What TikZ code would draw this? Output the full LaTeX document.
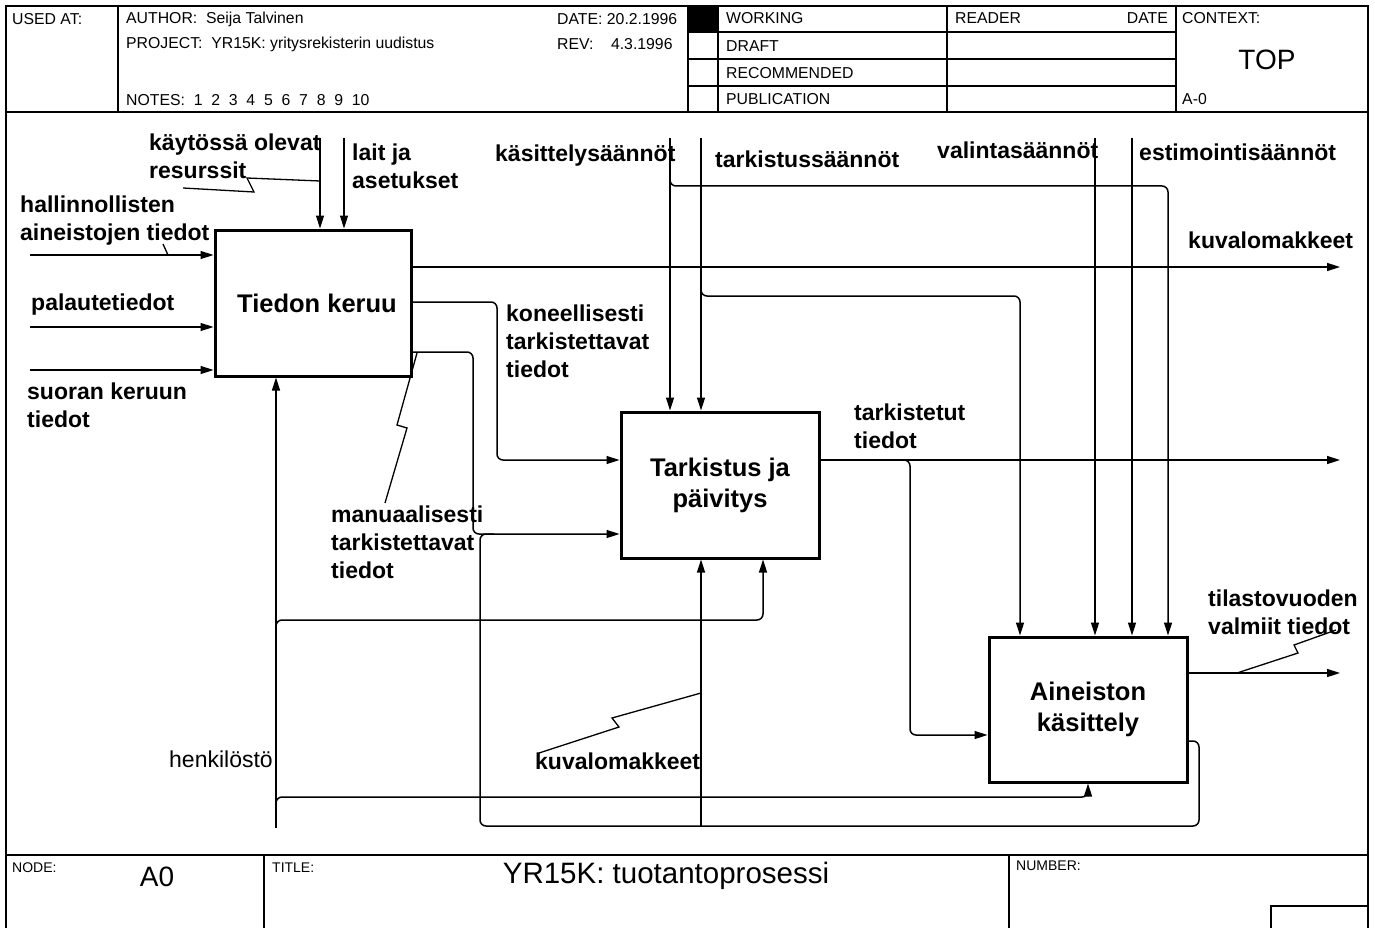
\documentclass[tikz,border=0pt]{standalone}
\usepackage{fontspec}
\setmainfont{Liberation Sans}
\usetikzlibrary{arrows.meta,calc}
\begin{document}
\begin{tikzpicture}[x=1pt,y=-1pt,
  flow/.style={line width=1.5pt, -{Triangle[length=13pt,width=8pt]}, rounded corners=6pt},
  plain/.style={line width=1.5pt, rounded corners=6pt},
  squig/.style={line width=1.3pt},
  act/.style={draw, line width=3pt, minimum width=196pt, minimum height=146pt, inner sep=0pt,
    font=\fontsize{25.5}{31}\selectfont\bfseries, align=center},
  lab/.style={font=\fontsize{23}{28}\selectfont\bfseries, align=left, anchor=west, inner sep=0pt},
  hdr/.style={font=\fontsize{15.8}{18}\selectfont, anchor=west, inner sep=0pt},
  big/.style={font=\fontsize{28}{32}\selectfont, inner sep=0pt},
  frm/.style={line width=1.5pt}
]
\useasboundingbox (0,0) rectangle (1375,928);
\fill[white] (0,0) rectangle (1375,928);

% ---------- frame ----------
\draw[frm] (6,935) -- (6,6) -- (1368,6) -- (1368,935);
\draw[frm] (6,112) -- (1368,112);
\draw[frm] (118,6) -- (118,112);
\draw[frm] (688,6) -- (688,112);
\draw[frm] (718,6) -- (718,112);
\draw[frm] (947,6) -- (947,112);
\draw[frm] (1176,6) -- (1176,112);
\draw[frm] (688,32) -- (1176,32);
\draw[frm] (688,59) -- (1176,59);
\draw[frm] (688,86) -- (1176,86);
\fill (688,6) rectangle (718,32);

\node[hdr] (usedat) at (12,19) {USED AT:};
\node[hdr] (author) at (126,19) {AUTHOR:\ \ Seija Talvinen};
\node[hdr] (project) at (126,44) {PROJECT:\ \ YR15K: yritysrekisterin uudistus};
\node[hdr] (notes) at (126,100) {NOTES:\ \ 1\ \ 2\ \ 3\ \ 4\ \ 5\ \ 6\ \ 7\ \ 8\ \ 9\ \ 10};
\node[hdr] (date) at (557,19) {DATE:\ 20.2.1996};
\node[hdr] (rev) at (557,44) {REV:\ \ \ \ 4.3.1996};
\node[hdr] (working) at (726,18) {WORKING};
\node[hdr] (draft) at (726,46) {DRAFT};
\node[hdr] (recomm) at (726,73) {RECOMMENDED};
\node[hdr] (public) at (726,99) {PUBLICATION};
\node[hdr] (reader) at (955,18) {READER};
\node[hdr, anchor=east] (rdate) at (1168,18) {DATE};
\node[hdr] (context) at (1182,18) {CONTEXT:};
\node[big] (top) at (1267,60) {TOP};
\node[hdr] (a0ctx) at (1182,99) {A-0};

% ---------- footer ----------
\draw[frm] (6,855) -- (1368,855);
\draw[frm] (264,855) -- (264,935);
\draw[frm] (1009,855) -- (1009,935);
\draw[frm] (1271,935) -- (1271,906) -- (1368,906);
\node[hdr, font=\fontsize{14}{16}\selectfont] (nodelbl) at (12,868) {NODE:};
\node[big] (nodeid) at (157,877) {A0};
\node[hdr, font=\fontsize{14}{16}\selectfont] (titlelbl) at (272,868) {TITLE:};
\node[big, font=\fontsize{29.5}{33}\selectfont] (title) at (666,876) {YR15K: tuotantoprosessi};
\node[hdr, font=\fontsize{14}{16}\selectfont] (numlbl) at (1016,866) {NUMBER:};

% ---------- activities ----------
\node[act] (keruu) at (313,303) {\hspace*{8pt}Tiedon keruu};
\node[act, minimum width=198pt] (tark) at (720,485) {Tarkistus ja\\päivitys};
\node[act, minimum width=198pt, minimum height=145pt] (ain) at (1088,709.5) {Aineiston\\käsittely};

% ---------- coordinates ----------
\coordinate (in1) at (30,255);
\coordinate (in2) at (30,327);
\coordinate (in3) at (30,370);
\coordinate (c1) at (320,138);
\coordinate (c2) at (344,138);
\coordinate (c3) at (670,138);
\coordinate (c4) at (701,138);
\coordinate (c5) at (1095,138);
\coordinate (c6) at (1132,138);
\coordinate (b3a) at (670,172);
\coordinate (b3) at (670,186);
\coordinate (b3r) at (1168,186);
\coordinate (b4a) at (701,282);
\coordinate (b4) at (701,296);
\coordinate (b4r) at (1020,296);
\coordinate (o1) at (1340,267);
\coordinate (k1) at (497,302);
\coordinate (k2) at (497,460);
\coordinate (m1) at (473,352);
\coordinate (m2) at (473,534);
\coordinate (o2) at (1340,460);
\coordinate (t0) at (896,460);
\coordinate (t1) at (910,460);
\coordinate (t2) at (910,735);
\coordinate (o3) at (1340,673);
\coordinate (l1) at (1199,741);
\coordinate (l2) at (1199,826);
\coordinate (l3) at (480,826);
\coordinate (l4) at (480,534);
\coordinate (l5) at (494,534);
\coordinate (kv) at (701,826);
\coordinate (h0) at (276,828);
\coordinate (h1a) at (276,632);
\coordinate (h1) at (276,620);
\coordinate (h1r) at (763,620);
\coordinate (h2a) at (276,809);
\coordinate (h2) at (276,797);
\coordinate (h2r) at (1088,797);

% ---------- inputs ----------
\draw[flow] (in1) -- (in1 -| keruu.west);
\draw[flow] (in2) -- (in2 -| keruu.west);
\draw[flow] (in3) -- (in3 -| keruu.west);

% ---------- controls ----------
\draw[flow] (c1) -- (c1 |- keruu.north);
\draw[flow] (c2) -- (c2 |- keruu.north);
\draw[flow] (c3) -- (c3 |- tark.north);
\draw[flow] (c4) -- (c4 |- tark.north);
\draw[flow] (b3a) -- (b3) -- (b3r) -- (b3r |- ain.north);
\draw[flow] (b4a) -- (b4) -- (b4r) -- (b4r |- ain.north);
\draw[flow] (c5) -- (c5 |- ain.north);
\draw[flow] (c6) -- (c6 |- ain.north);

% ---------- outputs / flows ----------
\draw[flow] (o1 -| keruu.east) -- (o1);
\draw[flow] (k1 -| keruu.east) -- (k1) -- (k2) -- (k2 -| tark.west);
\draw[flow] (m1 -| keruu.east) -- (m1) -- (m2) -- (m2 -| tark.west);
\draw[flow] (o2 -| tark.east) -- (o2);
\draw[flow] (t0) -- (t1) -- (t2) -- (t2 -| ain.west);
\draw[flow] (o3 -| ain.east) -- (o3);

% feedback loop (kuvalomakkeet)
\draw[plain] (l1 -| ain.east) -- (l1) -- (l2) -- (l3) -- (l4) -- (l5);
\draw[flow] (kv) -- (kv |- tark.south);

% ---------- mechanisms (henkilöstö) ----------
\draw[flow] (h0) -- (h0 |- keruu.south);
\draw[flow] (h1a) -- (h1) -- (h1r) -- (h1r |- tark.south);
\draw[flow] (h2a) -- (h2) -- (h2r) -- (h2r |- ain.south);

% ---------- squiggles ----------
\draw[squig] (183,188) -- (254,192) -- (247,178) -- (320,181);
\draw[squig] (163,244) -- (168,255);
\draw[squig] (417,353) -- (397,425) -- (407,428) -- (385,503);
\draw[squig] (539,753) -- (619,727) -- (612,718) -- (701,693);
\draw[squig] (1237,673) -- (1298,653) -- (1294,645) -- (1336,630);

% ---------- labels ----------
\node[lab] (lres) at (149,156) {käytössä olevat\\resurssit};
\node[lab] (llait) at (352,166) {lait ja\\asetukset};
\node[lab] (lhall) at (20,221) {hallinnollisten\\aineistojen tiedot};
\node[lab] (lpal) at (31,305) {palautetiedot};
\node[lab] (lsuor) at (27,405) {suoran keruun\\tiedot};
\node[lab] (lkas) at (495,156) {käsittelysäännöt};
\node[lab] (ltark) at (715,159) {tarkistussäännöt};
\node[lab] (lval) at (937,150) {valintasäännöt};
\node[lab] (lest) at (1139,152) {estimointisäännöt};
\node[lab] (lkuva) at (1188,240) {kuvalomakkeet};
\node[lab] (lkone) at (506,341) {koneellisesti\\tarkistettavat\\tiedot};
\node[lab] (lmanu) at (331,542) {manuaalisesti\\tarkistettavat\\tiedot};
\node[lab] (ltt) at (854,426) {tarkistetut\\tiedot};
\node[lab] (ltil) at (1208,612) {tilastovuoden\\valmiit tiedot};
\node[lab] (lkuva2) at (535,761) {kuvalomakkeet};
\node[lab, font=\fontsize{23}{28}\selectfont] (lhenk) at (169,759) {henkilöstö};
\end{tikzpicture}
\end{document}
